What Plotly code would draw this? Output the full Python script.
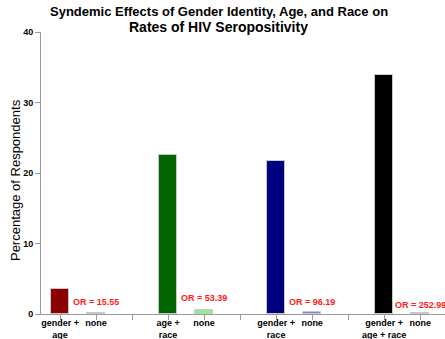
import plotly.graph_objects as go

groups = ["gender +<br>age", "age +<br>race", "gender +<br>race", "gender +<br>age + race"]
syndemic_pct = [3.55, 22.55, 21.7, 33.9]
none_pct = [0.2, 0.5, 0.25, 0.2]
odds_ratios = ["OR = 15.55", "OR = 53.39", "OR = 96.19", "OR = 252.99"]
none_label = "none"
syn_colors = ["#8b0000", "#006400", "#000080", "#000000"]
none_colors = ["#b070c8", "#90ee90", "#8080ff", "#9090e0"]
y_ticks = [0, 10, 20, 30, 40]

x_syn = [3 * i for i in range(len(groups))]
x_none = [3 * i + 1 for i in range(len(groups))]
tickvals = []
ticktext = []
for i, g in enumerate(groups):
    tickvals += [3 * i, 3 * i + 1, 3 * i + 2]
    ticktext += [g, none_label, ""]

fig = go.Figure()
fig.add_trace(go.Bar(x=x_syn, y=syndemic_pct, width=0.5,
                     marker=dict(color=syn_colors, line=dict(color="#c8c8c8", width=1))))
fig.add_trace(go.Bar(x=x_none, y=none_pct, width=0.5,
                     marker=dict(color=none_colors, line=dict(color="#c8c8c8", width=1))))

for xn, t, yoff in zip(x_none, odds_ratios, [1.7, 2.25, 1.75, 1.3]):
    fig.add_annotation(x=xn, y=yoff, text=t, showarrow=False,
                       font=dict(family="Arial, Liberation Sans", size=9, color="#ff1a1a", weight="bold"),
                       xanchor="center", yanchor="middle")

fig.add_annotation(xref="paper", yref="paper", x=0.44, y=1.071,
                   text="<b>Syndemic Effects of Gender Identity, Age, and Race on</b>",
                   showarrow=False, font=dict(family="Arial, Liberation Sans", size=13, color="#000"),
                   xanchor="center", yanchor="middle")
fig.add_annotation(xref="paper", yref="paper", x=0.44, y=1.018,
                   text="<b>Rates of HIV Seropositivity</b>",
                   showarrow=False, font=dict(family="Arial, Liberation Sans", size=14, color="#000"),
                   xanchor="center", yanchor="middle")
fig.add_annotation(xref="paper", yref="paper", x=-0.0644, y=0.475,
                   text="Percentage of Respondents", textangle=-90,
                   showarrow=False, font=dict(family="Arial, Liberation Sans", size=13, color="#000"),
                   xanchor="center", yanchor="middle")

fig.update_layout(
    width=445, height=339,
    margin=dict(l=41, r=0, t=32, b=25),
    paper_bgcolor="white", plot_bgcolor="white",
    showlegend=False, bargap=0,
    font=dict(family="Arial, Liberation Sans", color="#000"),
)
fig.update_xaxes(range=[-0.53, 10.69], tickvals=tickvals, ticktext=ticktext,
                 showline=True, linecolor="#9a9a9a", linewidth=1,
                 ticks="outside", ticklen=5, tickcolor="#9a9a9a",
                 ticklabelstandoff=-5,
                 tickfont=dict(size=9, family="Arial, Liberation Sans", weight="bold"),
                 showgrid=False, zeroline=False, tickangle=0, automargin=False)
fig.update_yaxes(range=[0, 40], tickvals=y_ticks,
                 showline=True, linecolor="#9a9a9a", linewidth=1,
                 ticks="outside", ticklen=5, tickcolor="#9a9a9a",
                 tickfont=dict(size=9, family="Arial, Liberation Sans", weight="bold"),
                 showgrid=False, zeroline=False, automargin=False)

fig.write_html("out.html")
